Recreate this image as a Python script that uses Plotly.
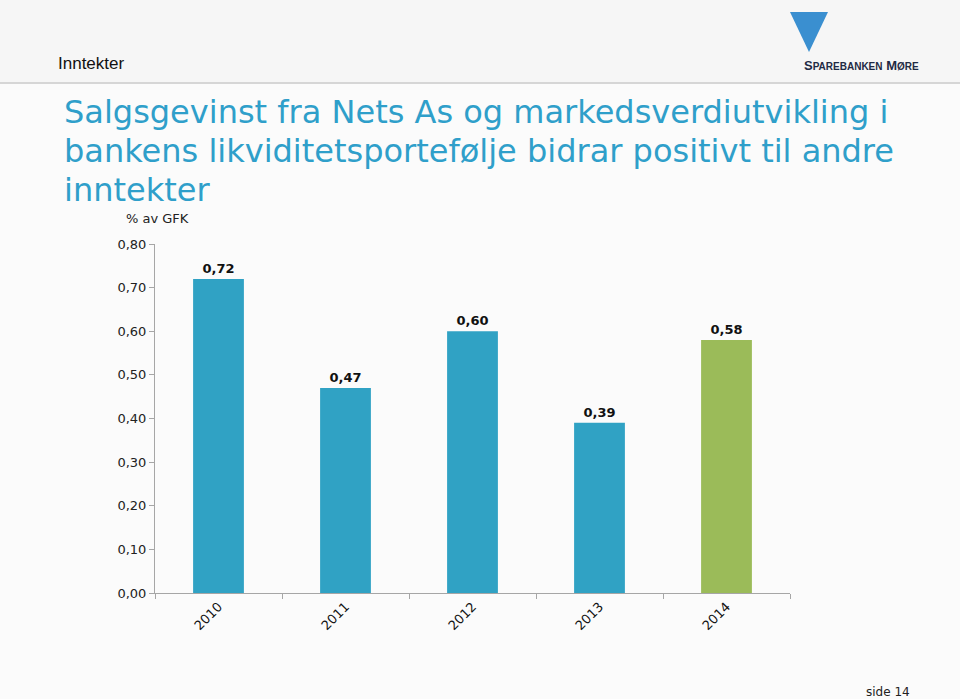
import plotly.graph_objects as go

years = ["2010", "2011", "2012", "2013", "2014"]
values = [0.72, 0.47, 0.60, 0.39, 0.58]
label_text = ["<b>0,72</b>", "<b>0,47</b>", "<b>0,60</b>", "<b>0,39</b>", "<b>0,58</b>"]
bar_colors = ["#30a2c4", "#30a2c4", "#30a2c4", "#30a2c4", "#9bbb59"]
y_ticks = [0.0, 0.1, 0.2, 0.3, 0.4, 0.5, 0.6, 0.7, 0.8]

W, H = 960, 699
L, R, T, B = 155, 790, 244, 593

fig = go.Figure()
fig.add_trace(go.Bar(
    x=years, y=values,
    marker=dict(color=bar_colors, line=dict(width=0)),
    text=label_text, textposition="outside",
    textfont=dict(family="DejaVu Sans", size=13, color="#111111"),
    cliponaxis=False,
    hoverinfo="skip",
))

fig.update_layout(
    width=W, height=H,
    margin=dict(l=L, r=W - R, t=T, b=H - B, pad=0),
    paper_bgcolor="#fbfbfb", plot_bgcolor="#fbfbfb",
    separators=", ",
    bargap=0.6,
    showlegend=False,
    font=dict(family="DejaVu Sans", size=13, color="#222222"),
    xaxis=dict(
        showline=True, linecolor="#a6a6a6", linewidth=1,
        ticks="outside", ticklen=5, tickcolor="#a6a6a6",
        tickson="boundaries", tickangle=-45,
        tickfont=dict(family="DejaVu Sans", size=13, color="#111111"),
        showgrid=False, zeroline=False,
    ),
    yaxis=dict(
        range=[0, 0.8], tickvals=y_ticks, tickformat=".2f",
        showline=True, linecolor="#a6a6a6", linewidth=1,
        ticks="outside", ticklen=5, tickcolor="#a6a6a6",
        tickfont=dict(family="DejaVu Sans", size=13, color="#222222"),
        showgrid=False, zeroline=False,
    ),
)

# header band
fig.add_shape(type="rect", xref="paper", yref="paper", x0=-L / (R - L), x1=(W - L) / (R - L),
              y0=(B - 0) / (B - T), y1=(B - 83) / (B - T), fillcolor="#f6f6f6", line=dict(width=0), layer="below")
fig.add_shape(type="line", xref="paper", yref="paper", x0=-L / (R - L), x1=(W - L) / (R - L),
              y0=(B - 83) / (B - T), y1=(B - 83) / (B - T), line=dict(color="#d6d6d6", width=2))

def px(xp, yp):
    return (xp - L) / (R - L), (B - yp) / (B - T)

def ann(text, xp, yp, size, color="#222222", family="DejaVu Sans", xanchor="left", yanchor="middle"):
    x, y = px(xp, yp)
    fig.add_annotation(text=text, x=x, y=y, xref="paper", yref="paper", showarrow=False,
                       xanchor=xanchor, yanchor=yanchor,
                       font=dict(size=size, color=color, family=family))

ann("Inntekter", 56, 64, 17, "#111111", "Liberation Sans")
title_lines = ["Salgsgevinst fra Nets As og markedsverdiutvikling i",
               "bankens likviditetsportefølje bidrar positivt til andre",
               "inntekter"]
for i, line in enumerate(title_lines):
    ann(line, 62, 112 + i * 39, 32, "#2f9fca")
ann("% av GFK", 124, 219, 13, "#222222")
ann("side 14", 912, 692, 12, "#222222", xanchor="right")
ann("<b>S</b><b style='font-size:10px'>PAREBANKEN</b> <b>M</b><b style='font-size:10px'>ØRE</b>",
    921, 66, 13, "#1f2a44", "Liberation Sans", xanchor="right")

# logo (simple)
lx, ly = px(790, 12)
lx2, ly2 = px(828, 52)
fig.add_shape(type="path", xref="paper", yref="paper",
              path="M {a},{b} L {c},{b} L {m},{d} Z".format(a=lx, b=ly, c=lx2, m=(lx + lx2) / 2, d=ly2),
              fillcolor="#3a8fd0", line=dict(width=0))

fig.write_html("out.html")
